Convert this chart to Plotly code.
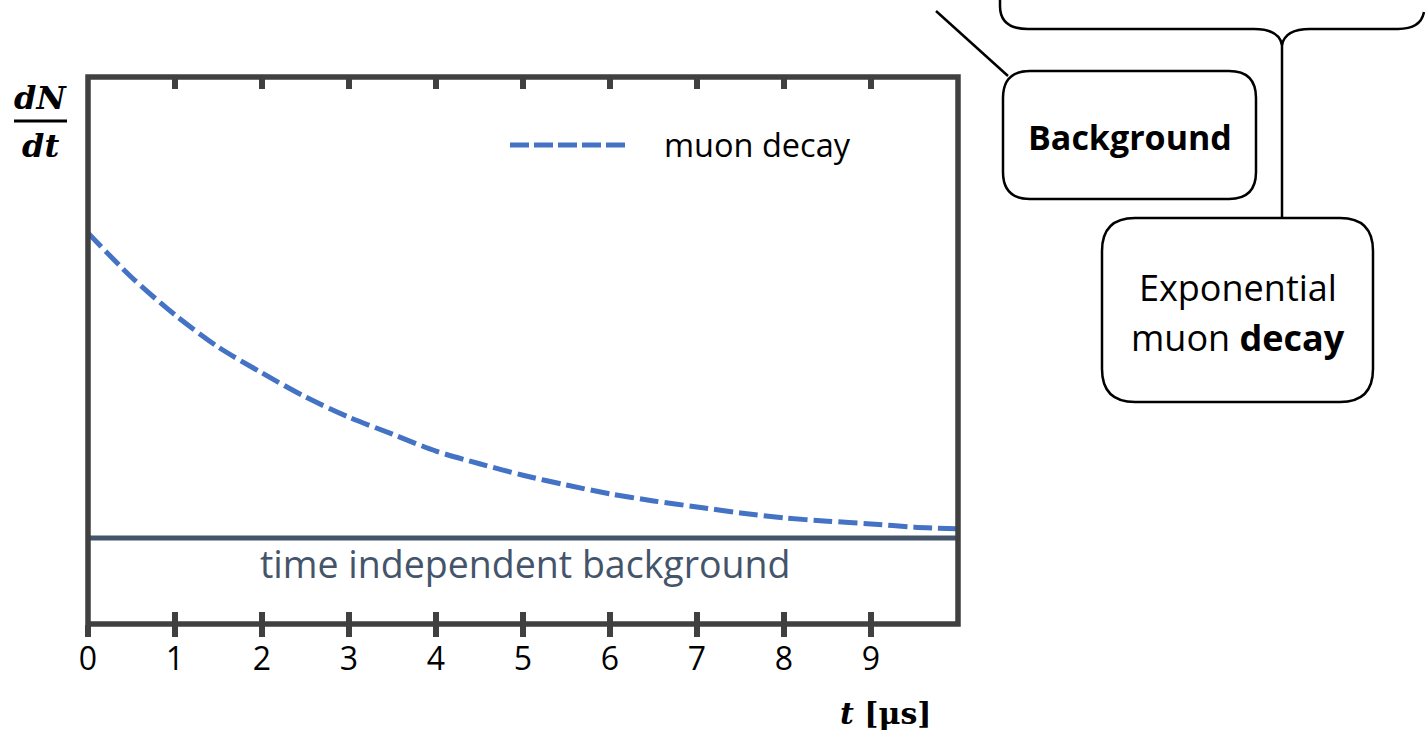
import plotly.graph_objects as go

# ---------------- data ----------------
t_values = [0, 0.5, 1, 1.5, 2, 2.5, 3, 3.5, 4, 4.5, 5, 5.5, 6, 6.5, 7, 7.5, 8, 8.5, 9, 9.5, 10]
muon_decay = [71.5, 63.4, 56.5, 50.6, 45.9, 41.5, 37.8, 34.7, 31.6, 29.3, 27.2,
              25.4, 23.8, 22.5, 21.4, 20.3, 19.4, 18.8, 18.3, 17.7, 17.4]
background_t = [0, 10]
background_level = [15.7, 15.7]
tick_vals = [0, 1, 2, 3, 4, 5, 6, 7, 8, 9]
tick_text = ["0", "1", "2", "3", "4", "5", "6", "7", "8", "9"]

# ---------------- layout geometry ----------------
FW, FH = 1425, 731
L, R, T, B = 88, 958, 77, 624
W, H = R - L, B - T

def px(x):
    return (x - L) / W

def py(y):
    return (B - y) / H

def path_px(cmds):
    out = []
    for c in cmds:
        if isinstance(c, str):
            out.append(c)
        else:
            out.append(f"{px(c[0]):.5f},{py(c[1]):.5f}")
    return " ".join(out)

def rrect(x0, y0, x1, y1, r):
    return path_px([
        "M", (x0 + r, y0), "L", (x1 - r, y0), "Q", (x1, y0), (x1, y0 + r),
        "L", (x1, y1 - r), "Q", (x1, y1), (x1 - r, y1),
        "L", (x0 + r, y1), "Q", (x0, y1), (x0, y1 - r),
        "L", (x0, y0 + r), "Q", (x0, y0), (x0 + r, y0), "Z"])

AXC = "#404040"
BLUE = "#4472C4"
SLATE = "#44546A"
SANS = "Open Sans"
SERIF = "DejaVu Serif"

fig = go.Figure()
fig.add_trace(go.Scatter(
    x=t_values, y=muon_decay, mode="lines", name="muon decay",
    line=dict(color=BLUE, width=5, dash="19px,6px", shape="spline", smoothing=0.8),
    showlegend=False, hoverinfo="skip"))
fig.add_trace(go.Scatter(
    x=background_t, y=background_level, mode="lines", name="background",
    line=dict(color=SLATE, width=5), showlegend=False, hoverinfo="skip"))
# invisible trace to hold the secondary (outside-tick) axis
fig.add_trace(go.Scatter(x=[0], y=[0], xaxis="x2", mode="markers",
                         marker=dict(opacity=0), showlegend=False, hoverinfo="skip"))

shapes = []
# frame
shapes.append(dict(type="rect", xref="paper", yref="paper", x0=0, y0=0, x1=1, y1=1,
                   line=dict(color=AXC, width=5.5), layer="above"))
# legend sample
shapes.append(dict(type="line", xref="paper", yref="paper",
                   x0=px(510), y0=py(145), x1=px(625), y1=py(145),
                   line=dict(color=BLUE, width=5, dash="19px,5px")))
# dN/dt fraction bar
shapes.append(dict(type="line", xref="paper", yref="paper",
                   x0=px(14), y0=py(121), x1=px(67), y1=py(121),
                   line=dict(color="black", width=3)))
# diagram
shapes.append(dict(type="path", xref="paper", yref="paper",
                   path=rrect(1003, 71, 1256, 199, 27), line=dict(color="black", width=2.5)))
shapes.append(dict(type="path", xref="paper", yref="paper",
                   path=rrect(1102, 218, 1373, 402, 33), line=dict(color="black", width=2.5)))
shapes.append(dict(type="line", xref="paper", yref="paper",
                   x0=px(936), y0=py(11), x1=px(1008), y1=py(76),
                   line=dict(color="black", width=2.5)))
shapes.append(dict(type="line", xref="paper", yref="paper",
                   x0=px(1282), y0=py(43), x1=px(1282), y1=py(218),
                   line=dict(color="black", width=2.5)))
shapes.append(dict(type="path", xref="paper", yref="paper",
                   path=path_px(["M", (1000, -2), "L", (1000, 6), "Q", (1000, 29), (1028, 29),
                                 "L", (1254, 29), "Q", (1279, 29), (1282, 45),
                                 "Q", (1285, 29), (1310, 29), "L", (1398, 29),
                                 "Q", (1421, 29), (1424, 12)]),
                   line=dict(color="black", width=2.5)))

annotations = []
def ann(text, x, y, size, xanchor="center", yanchor="middle", color="black", family=SANS):
    annotations.append(dict(text=text, xref="paper", yref="paper", x=px(x), y=py(y),
                            xanchor=xanchor, yanchor=yanchor, showarrow=False,
                            font=dict(family=family, size=size, color=color)))

ann("muon decay", 662, 144, 32.5, xanchor="left")
ann("time independent background", 525, 563, 37.5, color=SLATE)
ann("<b>Background</b>", 1130, 137, 34)
ann("Exponential", 1238, 287, 36)
ann("muon <b>decay</b>", 1238, 337, 36)
ann("<b><i>dN</i></b>", 40, 98, 32, family=SERIF)
ann("<b><i>dt</i></b>", 40, 146, 32, family=SERIF)
ann("<b><i>t</i> [μs]</b>", 934, 713, 30, xanchor="right", family=SERIF)

fig.update_layout(
    width=FW, height=FH,
    margin=dict(l=L, r=FW - R, t=T, b=FH - B, pad=0),
    paper_bgcolor="white", plot_bgcolor="white",
    font=dict(family=SANS, color="black"),
    xaxis=dict(range=[0, 10], tickmode="array", tickvals=tick_vals, ticktext=tick_text,
               ticks="inside", ticklen=12, tickwidth=5.5, tickcolor=AXC, mirror="ticks",
               showline=False, showgrid=False, zeroline=False,
               tickfont=dict(family=SANS, size=32, color="black"), ticklabelstandoff=13),
    xaxis2=dict(range=[0, 10], overlaying="x", anchor="y", side="bottom",
                tickmode="array", tickvals=tick_vals, showticklabels=False,
                ticks="outside", ticklen=12, tickwidth=5.5, tickcolor=AXC,
                showline=False, showgrid=False, zeroline=False),
    yaxis=dict(range=[0, 100], showticklabels=False, ticks="", showgrid=False,
               zeroline=False, showline=False),
    shapes=shapes, annotations=annotations, showlegend=False,
)

fig.write_html("out.html")
